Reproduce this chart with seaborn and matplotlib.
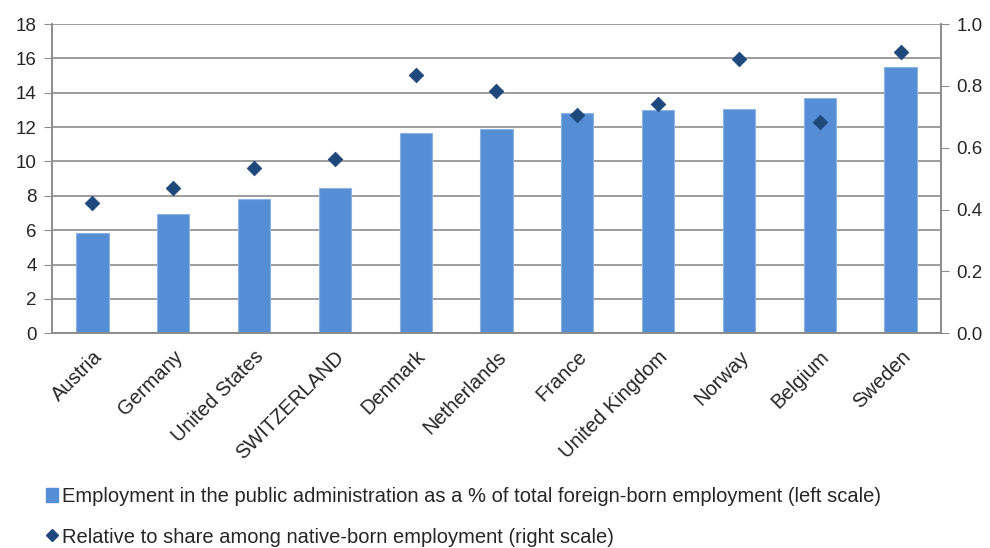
import numpy as np
import pandas as pd
import matplotlib
matplotlib.use("Agg")
import matplotlib.pyplot as plt
import seaborn as sns
from matplotlib.lines import Line2D
from matplotlib.patches import Patch

countries = ["Austria", "Germany", "United States", "SWITZERLAND", "Denmark",
             "Netherlands", "France", "United Kingdom", "Norway", "Belgium", "Sweden"]
share_foreign = [5.85, 6.93, 7.84, 8.46, 11.63, 11.9, 12.8, 12.99, 13.08, 13.72, 15.51]
relative_native = [0.42, 0.471, 0.536, 0.564, 0.836, 0.784, 0.705, 0.743, 0.887, 0.683, 0.910]

df = pd.DataFrame({"Country": countries, "Share": share_foreign, "Relative": relative_native})

sns.set_style("white")
plt.rcParams["font.family"] = ["Liberation Sans", "DejaVu Sans"]

bar_color = "#558ED5"
dot_color = "#1F497D"
grid_color = "#8c8c8c"

fig = plt.figure(figsize=(9.9, 5.48), dpi=100)
ax = fig.add_axes([0.0525, 0.392, 0.898, 0.564])

sns.barplot(data=df, x="Country", y="Share", color=bar_color, width=0.4,
            edgecolor="#8db3e2", linewidth=0.8, saturation=1, ax=ax, zorder=2)
ax.set_ylim(0, 18)
ax.set_yticks(np.arange(0, 19, 2))
ax.set_xlim(-0.5, len(countries) - 0.5)
ax.yaxis.grid(True, color=grid_color, linewidth=1.2, zorder=0)
ax.set_axisbelow(True)
ax.set_xlabel("")
ax.set_ylabel("")

ax2 = ax.twinx()
sns.scatterplot(data=df, x="Country", y="Relative", marker="D", color=dot_color,
                s=55, edgecolor=dot_color, ax=ax2, zorder=3)
ax2.set_ylim(0, 1.0)
ax2.set_yticks(np.arange(0, 1.01, 0.2))
ax2.set_yticklabels([f"{v:.1f}" for v in np.arange(0, 1.01, 0.2)])
ax2.set_ylabel("")
ax2.set_xlim(-0.5, len(countries) - 0.5)

for a in (ax, ax2):
    a.spines["top"].set_visible(False)
    for side in ("left", "right", "bottom"):
        a.spines[side].set_color(grid_color)
        a.spines[side].set_linewidth(1.2)

ax.tick_params(axis="y", labelsize=13.5, length=6, color=grid_color, left=True, pad=5)
ax2.tick_params(axis="y", labelsize=13.5, length=6, color=grid_color, right=True, pad=5)

# category labels rotated, ticks drawn at the category boundaries
ax.set_xticks(range(len(countries)))
ax.set_xticklabels(countries, rotation=45, ha="right", rotation_mode="anchor", fontsize=14.5)
ax.tick_params(axis="x", length=0, pad=10)
ax.set_xticks(np.arange(0.5, len(countries) - 0.5, 1), minor=True)
ax.tick_params(axis="x", which="minor", length=6, direction="in", color=grid_color, width=1.2)

handles = [
    Patch(facecolor=bar_color, edgecolor=bar_color,
          label="Employment in the public administration as a % of total foreign-born employment (left scale)"),
    Line2D([0], [0], marker="D", color="none", markerfacecolor=dot_color, markeredgecolor=dot_color,
           markersize=6, label="Relative to share among native-born employment (right scale)"),
]
fig.legend(handles=handles, loc="lower left", bbox_to_anchor=(0.038, -0.012), ncol=1,
           frameon=False, fontsize=14.5, handlelength=0.6, handletextpad=0.2,
           labelspacing=1.05, borderaxespad=0)

fig.savefig("out.png", dpi=100)
